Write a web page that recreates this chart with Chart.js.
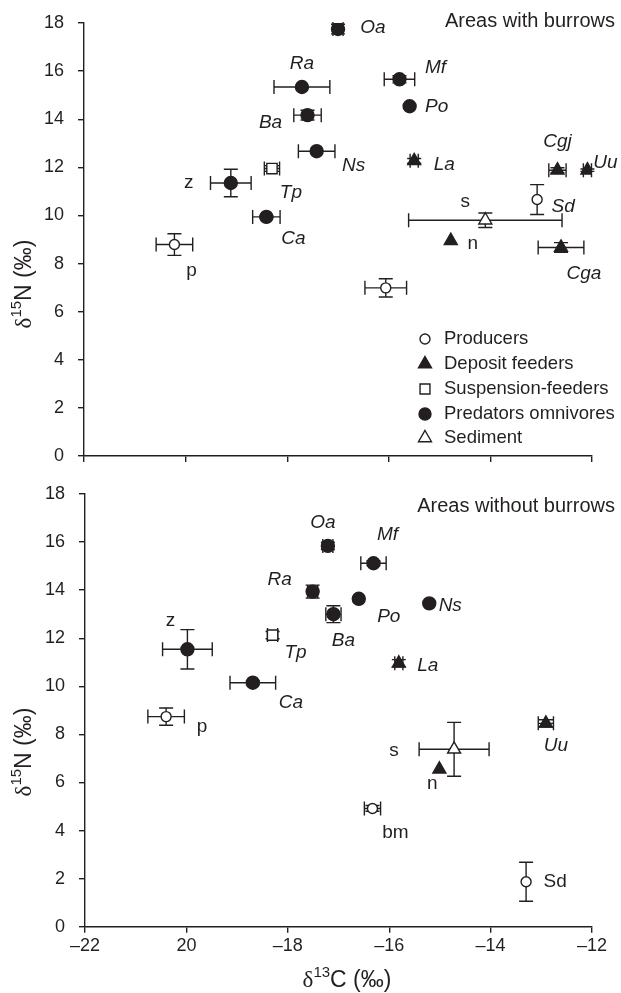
<!DOCTYPE html>
<html>
<head>
<meta charset="utf-8">
<script src="https://cdn.jsdelivr.net/npm/chart.js@4.4.1/dist/chart.umd.min.js"></script>
<style>
  body { margin: 0; background: #fff; }
  canvas { position: absolute; left: 0; }
</style>
</head>
<body>
<canvas id="chartWith" width="621" height="475" style="top:0"></canvas>
<canvas id="chartWithout" width="621" height="518" style="top:475px"></canvas>
<script>
// groups, in legend order
const groupNames = ['Producers', 'Deposit feeders', 'Suspension-feeders', 'Predators omnivores', 'Sediment'];
const xTickLabels = ['–22', '20', '–18', '–16', '–14', '–12'];

// Areas with burrows
const withNames = ['Oa', 'Ra', 'Mf', 'Po', 'Ba', 'Ns', 'La', 'Tp', 'Cgj', 'Uu', 'z', 'Sd', 'Ca', 's', 'n', 'p', 'Cga', ''];
const withGroup = [3, 3, 3, 3, 3, 3, 1, 2, 1, 1, 3, 0, 3, 4, 1, 0, 1, 0];
const withC13 = [-17.00, -17.71, -15.79, -15.59, -17.60, -17.42, -15.50, -18.30, -12.68, -12.09, -19.11, -13.08, -18.41, -14.10, -14.78, -20.22, -12.61, -16.06];
const withN15 = [17.75, 15.34, 15.66, 14.54, 14.17, 12.67, 12.27, 11.95, 11.88, 11.88, 11.35, 10.66, 9.94, 9.80, 8.95, 8.79, 8.67, 6.99];
const withC13Err = [0.10, 0.55, 0.30, 0, 0.27, 0.36, 0.08, 0.15, 0.17, 0.08, 0.40, 0, 0.27, 1.51, 0, 0.36, 0.45, 0.41];
const withN15Err = [0.20, 0, 0.15, 0, 0.20, 0, 0.10, 0.12, 0.10, 0.05, 0.57, 0.62, 0.05, 0.30, 0, 0.45, 0.20, 0.38];

// Areas without burrows
const withoutNames = ['Oa', 'Mf', 'Ra', 'Po', 'Ba', 'Ns', 'La', 'z', 'Tp', 'Ca', 'p', 'Uu', 's', 'n', 'bm', 'Sd'];
const withoutGroup = [3, 3, 3, 3, 3, 3, 1, 3, 2, 3, 0, 1, 4, 1, 0, 0];
const withoutC13 = [-17.21, -16.31, -17.51, -16.60, -17.10, -15.21, -15.81, -19.98, -18.30, -18.69, -20.40, -12.91, -14.72, -15.01, -16.33, -13.30];
const withoutN15 = [15.84, 15.12, 13.94, 13.64, 13.00, 13.45, 10.96, 11.54, 12.13, 10.15, 8.74, 8.46, 7.38, 6.55, 4.92, 1.87];
const withoutC13Err = [0.10, 0.25, 0.10, 0, 0.15, 0, 0.08, 0.49, 0.10, 0.45, 0.36, 0.15, 0.69, 0, 0.16, 0];
const withoutN15Err = [0.15, 0.10, 0.27, 0, 0.35, 0, 0.15, 0.82, 0.15, 0.08, 0.36, 0.15, 1.12, 0, 0.12, 0.81];

// label placement (pixel offsets from the point) and which labels are upright
const withLabelDx = [35, 0, 36, 27, -37, 37, 30, 19, 0, 18, -42, 26, 27, -20, 22, 17, 23, 0];
const withLabelDy = [-1, -23, -12, 0, 8, 15, 4, 24, -29, -8, 0, 7, 22, -18, 3, 26, 26, 0];
const withPlain = ['z', 'p', 's', 'n'];
const withoutLabelDx = [-5, 14, -33, 30, 10, 21, 29, -17, 23, 38, 36, 10, -60, -7, 23, 29];
const withoutLabelDy = [-23, -29, -12, 18, 27, 2, 2, -29, 18, 20, 10, 22, 1, 15, 24, 0];
const withoutPlain = ['z', 'p', 's', 'n', 'bm', 'Sd'];

const ink = '#231f20';
const fontFamily = '"Liberation Sans", Arial, sans-serif';

const markerStyles = [
    { pointStyle: 'circle', radius: 5, fill: '#fff' },
    { pointStyle: 'triangle', radius: 7.5, fill: ink },
    { pointStyle: 'rect', radius: 7.3, fill: '#fff' },
    { pointStyle: 'circle', radius: 6.5, fill: ink },
    { pointStyle: 'triangle', radius: 7.5, fill: '#fff' }
];

function buildDatasets(names, groups, xs, ys, xErr, yErr, dx, dy, plain) {
    return groupNames.map((g, gi) => {
        const st = markerStyles[gi];
        const pts = [];
        names.forEach((n, i) => {
            if (groups[i] !== gi) return;
            pts.push({ x: xs[i], y: ys[i], xErr: xErr[i], yErr: yErr[i], name: n,
                       dx: dx[i], dy: dy[i], italic: !plain.includes(n) });
        });
        return {
            label: g,
            data: pts,
            pointStyle: st.pointStyle,
            pointRadius: st.radius,
            pointHoverRadius: st.radius,
            backgroundColor: st.fill,
            borderColor: ink,
            borderWidth: 1.4
        };
    });
}

function drawMarker(ctx, style, x, y, r) {
    ctx.beginPath();
    if (style === 'circle') {
        ctx.arc(x, y, r, 0, Math.PI * 2);
    } else if (style === 'rect') {
        const s = r * Math.SQRT1_2;
        ctx.rect(x - s, y - s, 2 * s, 2 * s);
    } else {
        ctx.moveTo(x, y - r);
        ctx.lineTo(x + r * Math.sin(Math.PI * 2 / 3), y - r * Math.cos(Math.PI * 2 / 3));
        ctx.lineTo(x + r * Math.sin(Math.PI * 4 / 3), y - r * Math.cos(Math.PI * 4 / 3));
        ctx.closePath();
    }
    ctx.fill();
    ctx.stroke();
}

// error bars go under the markers
const errorBars = {
    id: 'errorBars',
    beforeDatasetsDraw(chart) {
        const { ctx, scales: { x, y } } = chart;
        const cap = 7;
        ctx.save();
        ctx.strokeStyle = ink;
        ctx.lineWidth = 1.4;
        chart.data.datasets.forEach(ds => ds.data.forEach(p => {
            const px = x.getPixelForValue(p.x);
            const py = y.getPixelForValue(p.y);
            ctx.beginPath();
            if (p.xErr > 0) {
                const l = x.getPixelForValue(p.x - p.xErr);
                const r = x.getPixelForValue(p.x + p.xErr);
                ctx.moveTo(l, py); ctx.lineTo(r, py);
                ctx.moveTo(l, py - cap); ctx.lineTo(l, py + cap);
                ctx.moveTo(r, py - cap); ctx.lineTo(r, py + cap);
            }
            if (p.yErr > 0) {
                const t = y.getPixelForValue(p.y + p.yErr);
                const b = y.getPixelForValue(p.y - p.yErr);
                ctx.moveTo(px, t); ctx.lineTo(px, b);
                ctx.moveTo(px - cap, t); ctx.lineTo(px + cap, t);
                ctx.moveTo(px - cap, b); ctx.lineTo(px + cap, b);
            }
            ctx.stroke();
        }));
        ctx.restore();
    }
};

const pointNames = {
    id: 'pointNames',
    afterDatasetsDraw(chart) {
        const { ctx, scales: { x, y } } = chart;
        ctx.save();
        ctx.fillStyle = ink;
        ctx.textAlign = 'center';
        ctx.textBaseline = 'middle';
        chart.data.datasets.forEach(ds => ds.data.forEach(p => {
            if (!p.name) return;
            ctx.font = (p.italic ? 'italic ' : '') + '19px ' + fontFamily;
            ctx.fillText(p.name, x.getPixelForValue(p.x) + p.dx, y.getPixelForValue(p.y) + p.dy);
        }));
        ctx.restore();
    }
};

function drawDeltaTitle(ctx, sup, rest, cx, cy, vertical) {
    const parts = [
        { t: 'δ', f: '23px "Liberation Serif", serif', rise: 0 },
        { t: sup, f: '15px ' + fontFamily, rise: 8 },
        { t: rest, f: '23px ' + fontFamily, rise: 0 }
    ];
    ctx.save();
    ctx.fillStyle = ink;
    ctx.textBaseline = 'middle';
    ctx.textAlign = 'left';
    let total = 0;
    parts.forEach(p => { ctx.font = p.f; p.w = ctx.measureText(p.t).width; total += p.w; });
    ctx.translate(cx, cy);
    if (vertical) ctx.rotate(-Math.PI / 2);
    let xpos = -total / 2;
    parts.forEach(p => {
        ctx.font = p.f;
        ctx.fillText(p.t, xpos, -p.rise);
        xpos += p.w;
    });
    ctx.restore();
}

// titles, axis titles and the legend
const panelText = {
    id: 'panelText',
    afterDraw(chart, args, opts) {
        const ctx = chart.ctx;
        ctx.save();
        ctx.fillStyle = ink;
        ctx.font = '20px ' + fontFamily;
        ctx.textAlign = 'right';
        ctx.textBaseline = 'middle';
        ctx.fillText(opts.title, 615, opts.titleY);
        ctx.restore();

        drawDeltaTitle(ctx, '15', 'N (‰)', 25, opts.yTitleY, true);
        if (opts.xTitleY) drawDeltaTitle(ctx, '13', 'C (‰)', 347, opts.xTitleY, false);

        if (opts.legend) {
            const rows = [339, 364, 389, 414, 438];
            const sizes = [5, 7.5, 7, 6, 7.5];
            ctx.save();
            ctx.strokeStyle = ink;
            ctx.lineWidth = 1.4;
            groupNames.forEach((g, i) => {
                ctx.fillStyle = markerStyles[i].fill;
                drawMarker(ctx, markerStyles[i].pointStyle, 425, rows[i], sizes[i]);
                ctx.fillStyle = ink;
                ctx.font = '18.5px ' + fontFamily;
                ctx.textAlign = 'left';
                ctx.textBaseline = 'middle';
                ctx.fillText(g, 444, rows[i]);
            });
            ctx.restore();
        }
    }
};

function axisOptions(showXLabels, xHeight, yWidth) {
    const tickFont = { family: fontFamily, size: 18 };
    const grid = { display: true, drawOnChartArea: false, drawTicks: true, tickLength: 6, color: ink, lineWidth: 1.4 };
    return {
        x: {
            type: 'linear',
            min: -22, max: -12,
            border: { display: true, color: ink, width: 1.4 },
            grid: grid,
            ticks: {
                stepSize: 2,
                color: ink,
                font: tickFont,
                padding: 3,
                maxRotation: 0,
                callback: (v, i) => showXLabels ? xTickLabels[i] : ''
            },
            afterFit: s => { s.height = xHeight; s.paddingLeft = 0; s.paddingRight = 0; }
        },
        y: {
            min: 0, max: 18,
            border: { display: true, color: ink, width: 1.4 },
            grid: grid,
            ticks: { stepSize: 2, color: ink, font: tickFont, padding: 14 },
            afterFit: s => { s.width = yWidth; s.paddingTop = 0; s.paddingBottom = 0; }
        }
    };
}

function makeChart(id, datasets, axes, padding, text) {
    return new Chart(document.getElementById(id), {
        type: 'scatter',
        data: { datasets: datasets },
        options: {
            responsive: false,
            animation: false,
            devicePixelRatio: 1,
            layout: { padding: padding },
            scales: axes,
            plugins: {
                legend: { display: false },
                tooltip: { enabled: false },
                panelText: text
            }
        },
        plugins: [errorBars, pointNames, panelText]
    });
}

makeChart('chartWith',
    buildDatasets(withNames, withGroup, withC13, withN15, withC13Err, withN15Err, withLabelDx, withLabelDy, withPlain),
    axisOptions(false, 19, 84),
    { top: 23, right: 29, bottom: 0, left: 0 },
    { title: 'Areas with burrows', titleY: 21, yTitleY: 284, legend: true });

makeChart('chartWithout',
    buildDatasets(withoutNames, withoutGroup, withoutC13, withoutN15, withoutC13Err, withoutN15Err, withoutLabelDx, withoutLabelDy, withoutPlain),
    axisOptions(true, 66.3, 85),
    { top: 19, right: 29, bottom: 0, left: 0 },
    { title: 'Areas without burrows', titleY: 31, yTitleY: 277, xTitleY: 506, legend: false });
</script>
</body>
</html>
